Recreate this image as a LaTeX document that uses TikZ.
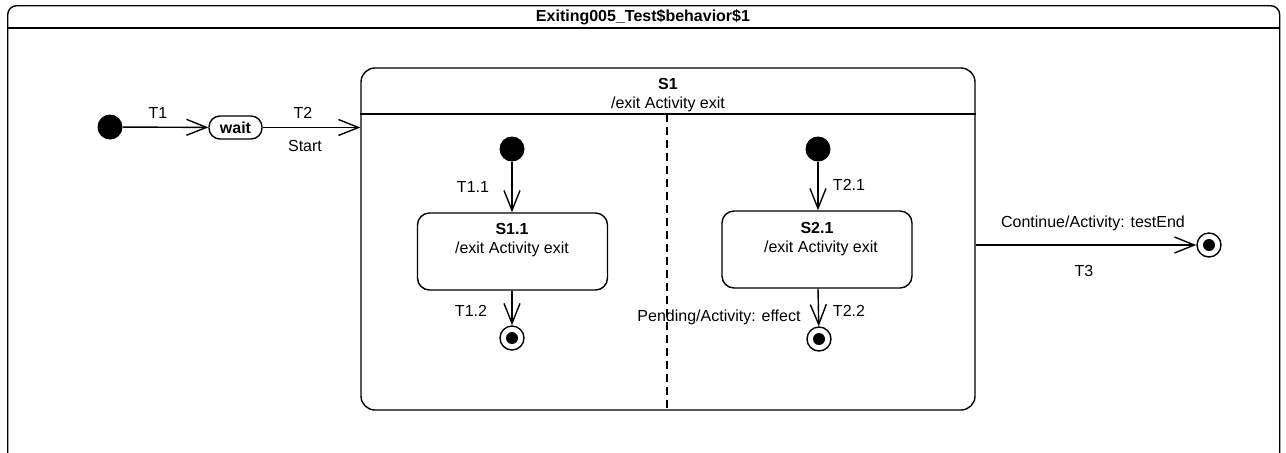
\documentclass[tikz,border=0pt]{standalone}
\usepackage{fontspec}
\setmainfont{Liberation Sans}
\usetikzlibrary{arrows.meta, positioning, calc}
\definecolor{ink}{HTML}{000000}
\definecolor{paper}{HTML}{FFFFFF}
\tikzset{
  frame/.style      = {rectangle, rounded corners=4.5pt, draw=ink, line width=0.7pt,
                       fill=paper, inner sep=0pt},
  region/.style     = {rectangle, rounded corners=7pt, draw=ink, line width=0.7pt,
                       fill=paper, inner sep=0pt, minimum width=307pt, minimum height=171pt},
  statebox/.style   = {rectangle, rounded corners=6pt, draw=ink, line width=0.7pt,
                       fill=paper, inner sep=0pt, minimum width=95pt, minimum height=38.5pt},
  pill/.style       = {rectangle, rounded corners=5.5pt, draw=ink, line width=0.7pt,
                       fill=paper, font=\fontsize{8}{10}\selectfont\bfseries, inner sep=0pt,
                       minimum width=26.5pt, minimum height=11.5pt},
  initstate/.style  = {circle, fill=ink, inner sep=0pt, minimum size=12.5pt},
  finalstate/.style = {circle, draw=ink, line width=0.7pt, fill=paper, inner sep=0pt,
                       minimum size=12pt,
                       path picture={\fill[ink] (path picture bounding box.center) circle (3pt);}},
  trans/.style      = {-{Straight Barb[length=10pt, width=8pt, line width=0.7pt]},
                       line width=0.7pt, draw=ink},
  lbl/.style        = {font=\fontsize{8}{10}\selectfont, inner sep=0pt},
  namelbl/.style    = {font=\fontsize{8}{10}\selectfont\bfseries, inner sep=0pt},
  region sep/.style = {line width=0.7pt, draw=ink, dash pattern=on 4pt off 2.5pt},
}

\begin{document}
\begin{tikzpicture}[x=0.5pt, y=-0.5pt]
  \useasboundingbox (0,0) rectangle (1286,452);

  % outer frame
  \node[frame, minimum width=636pt, minimum height=228pt, anchor=north west] (frame) at (7,5) {};
  \draw[line width=0.7pt] (7,28) coordinate (hl) -- (1279,28) coordinate (hr);
  \node[namelbl] (title) at (643,17) {Exiting005\_Test\$behavior\$1};

  % top level
  \node[initstate] (init) at (110,127) {};
  \node[pill] (wait) at (235.5,127.5) {wait};
  \node[region] (S1) at (668,239) {};
  \node[finalstate] (fin) at (1209,245) {};

  \draw[trans] (init) -- (wait);
  \node[lbl] (t1) at (158,113) {T1};
  \draw[trans] (wait.east) -- (wait.east -| S1.west);
  \node[lbl] (t2) at (303,113) {T2};
  \node[lbl] (start) at (305,146) {Start};
  \draw[trans] (fin -| S1.east) -- (fin);
  \node[lbl] (cont) at (1093,223) {Continue/Activity: testEnd};
  \node[lbl] (t3) at (1084,271) {T3};

  % composite S1
  \node[namelbl] (s1name) at (668,84) {S1};
  \node[lbl] (s1act) at (668,104) {/exit Activity exit};
  \draw[line width=0.7pt] (S1.west |- 0,114) coordinate (sepl) -- (S1.east |- 0,114) coordinate (sepr);
  \draw[region sep] (667,114) coordinate (rtop) -- (rtop |- S1.south);

  % region 1
  \node[initstate] (i11) at (512,149) {};
  \node[statebox] (s11) at (512.5,251.5) {};
  \node[namelbl] (s11name) at (512,229) {S1.1};
  \node[lbl] (s11act) at (512,249) {/exit Activity exit};
  \node[finalstate] (f11) at (512,338) {};
  \draw[trans] (i11) -- (i11 |- s11.north);
  \draw[trans] (i11 |- s11.south) -- (f11);
  \node[lbl] (t11) at (473,187) {T1.1};
  \node[lbl] (t12) at (471,311) {T1.2};

  % region 2
  \node[initstate] (i21) at (818,149) {};
  \node[statebox] (s21) at (817,249.5) {};
  \node[namelbl] (s21name) at (817,228) {S2.1};
  \node[lbl] (s21act) at (821,248) {/exit Activity exit};
  \node[finalstate] (f21) at (819,339) {};
  \draw[trans] (i21) -- (i21 |- s21.north);
  \draw[trans] (i21 |- s21.south) -- (f21);
  \node[lbl] (t21) at (849,185) {T2.1};
  \node[lbl] (t22) at (849,311) {T2.2};
  \node[lbl] (pend) at (719,317) {Pending/Activity: effect};
\end{tikzpicture}
\end{document}
